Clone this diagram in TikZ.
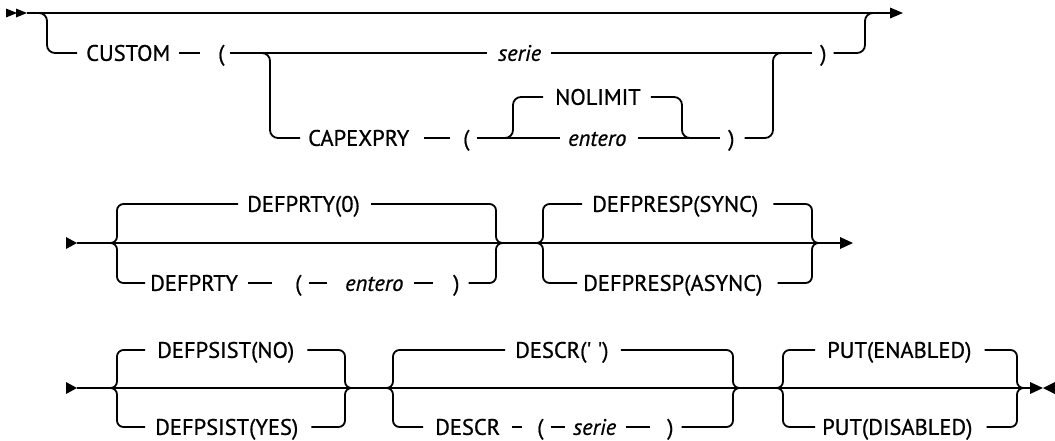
\documentclass[tikz,border=0pt]{standalone}
\usepackage{fontspec}
\setmainfont{PT Sans}
\newfontfamily\tkfont{PT Sans}[FakeBold=0.8]
\begin{document}
\begin{tikzpicture}[x=1pt,y=-1pt,
  ln/.style={line width=1.8pt},
  rr/.style={line width=1.8pt, rounded corners=8pt},
  br/.style={line width=1.8pt, rounded corners=6.5pt},
  tk/.style 2 args={inner sep=0pt, text height=15.7pt, text depth=0pt, anchor=west,
    font=\tkfont\fontsize{22.5}{26}\selectfont,
    execute at begin node={\hspace*{#1pt}}, execute at end node={\hspace*{#2pt}}},
  var/.style={font=\tkfont\fontsize{22.5}{26}\selectfont\itshape},
  tip/.style={fill=black}]
\useasboundingbox (0,0) rectangle (1055,440);

% ---------------- Row 1 ----------------
\coordinate (s1) at (27,13);
\coordinate (e1) at (890,13);
\draw[ln] (s1) -- (e1);
\fill[tip] (6,8.5) -- (17,13) -- (6,17.5) -- cycle;
\fill[tip] (16,8.5) -- (27,13) -- (16,17.5) -- cycle;
\fill[tip] (e1) ++(0,-5.5) -- ++(13,5.5) -- ++(-13,5.5) -- cycle;

\node[tk={9}{9}] (custom) at (77,53) {CUSTOM};
\draw[rr] (30,13) -- (47,13) -- (47,53) -- (custom.west);
\node[tk={18}{5}] (lp1) at (200,53) {(};
\draw[ln] (custom.east) -- (lp1.west);
\node[tk={11}{10},var] (serie1) at (487,53) {serie};
\draw[ln] (lp1.east) -- (serie1.west);
\node[tk={8}{7}] (rp1) at (812,53) {)};
\draw[ln] (serie1.east) -- (rp1.west);
\draw[rr] (rp1.east) -- (865,53) -- (865,13) -- (880,13);

\node[tk={8}{15}] (capexpry) at (300,138) {CAPEXPRY};
\draw[rr] (255,53) -- (270,53) -- (270,138) -- (capexpry.west);
\node[tk={13}{7}] (lp2) at (450,138) {(};
\draw[ln] (capexpry.east) -- (lp2.west);
\node[tk={12}{10}] (nolimit) at (543,97) {NOLIMIT};
\node[tk={8}{11},var] (entero1) at (560,138) {entero};
\draw[ln] (lp2.east) -- (entero1.west);
\draw[rr] (498,138) -- (513,138) -- (513,97) -- (nolimit.west);
\draw[rr] (nolimit.east) -- (682,97) -- (682,138) -- (697,138);
\node[tk={8}{10}] (rp2) at (720,138) {)};
\draw[ln] (entero1.east) -- (rp2.west);
\draw[rr] (rp2.east) -- (773,138) -- (773,53) -- (788,53);

% ---------------- Row 2 ----------------
\coordinate (s2) at (77,243);
\coordinate (e2) at (840,243);
\draw[ln] (s2) -- (e2);
\fill[tip] (s2) ++(-11,-6) -- ++(11,6) -- ++(-11,6) -- cycle;
\fill[tip] (e2) ++(0,-6) -- ++(13,6) -- ++(-13,6) -- cycle;

\node[tk={9}{11}] (defprty0) at (238,204) {DEFPRTY(0)};
\draw[br] (104,243) -- (117,243) -- (117,204) -- (defprty0.west);
\draw[br] (defprty0.east) -- (496,204) -- (496,243) -- (509,243);
\node[tk={5}{10}] (defprty) at (145,283) {DEFPRTY};
\draw[br] (104,243) -- (117,243) -- (117,283) -- (defprty.west);
\node[tk={23}{7}] (lp3) at (272,283) {(};
\draw[ln] (defprty.east) -- (lp3.west);
\node[tk={18}{10},var] (entero2) at (327,283) {entero};
\draw[ln] (lp3.east) -- (entero2.west);
\node[tk={20}{9}] (rp3) at (433,283) {)};
\draw[ln] (entero2.east) -- (rp3.west);
\draw[br] (rp3.east) -- (496,283) -- (496,243) -- (509,243);

\node[tk={10}{15}] (sync) at (582,204) {DEFPRESP(SYNC)};
\draw[br] (530,243) -- (543,243) -- (543,204) -- (sync.west);
\draw[br] (sync.east) -- (812,204) -- (812,243) -- (825,243);
\node[tk={6}{15}] (async) at (577,283) {DEFPRESP(ASYNC)};
\draw[br] (530,243) -- (543,243) -- (543,283) -- (async.west);
\draw[br] (async.east) -- (812,283) -- (812,243) -- (825,243);

% ---------------- Row 3 ----------------
\coordinate (s3) at (77,388);
\coordinate (e3) at (1030,388);
\draw[ln] (s3) -- (e3);
\fill[tip] (s3) ++(-11,-6) -- ++(11,6) -- ++(-11,6) -- cycle;
\fill[tip] (e3) ++(0,-6) -- ++(13,6) -- ++(-13,6) -- cycle;
\fill[tip] (1055,382) -- (1043,388) -- (1055,394) -- cycle;

\node[tk={12}{13}] (psno) at (145,350) {DEFPSIST(NO)};
\draw[br] (104,388) -- (117,388) -- (117,350) -- (psno.west);
\draw[br] (psno.east) -- (345,350) -- (345,388) -- (358,388);
\node[tk={10}{13}] (psyes) at (145,427) {DEFPSIST(YES)};
\draw[br] (104,388) -- (117,388) -- (117,427) -- (psyes.west);
\draw[br] (psyes.east) -- (345,427) -- (345,388) -- (358,388);

\node[tk={10}{12}] (descrq) at (505,350) {DESCR(\textquotesingle\ \textquotesingle)};
\draw[br] (380,388) -- (393,388) -- (393,350) -- (descrq.west);
\draw[br] (descrq.east) -- (733,350) -- (733,388) -- (746,388);
\node[tk={12}{12}] (descr) at (423,427) {DESCR};
\draw[br] (380,388) -- (393,388) -- (393,427) -- (descr.west);
\node[tk={15}{7}] (lp4) at (522,427) {(};
\draw[ln] (descr.east) -- (lp4.west);
\node[tk={8}{10},var] (serie2) at (565,427) {serie};
\draw[ln] (lp4.east) -- (serie2.west);
\node[tk={17}{8}] (rp4) at (650,427) {)};
\draw[ln] (serie2.east) -- (rp4.west);
\draw[br] (rp4.east) -- (733,427) -- (733,388) -- (746,388);

\node[tk={12}{13}] (puten) at (815,350) {PUT(ENABLED)};
\draw[br] (770,388) -- (783,388) -- (783,350) -- (puten.west);
\draw[br] (puten.east) -- (1017,350) -- (1017,388) -- (1030,388);
\node[tk={7}{14}] (putdis) at (815,427) {PUT(DISABLED)};
\draw[br] (770,388) -- (783,388) -- (783,427) -- (putdis.west);
\draw[br] (putdis.east) -- (1017,427) -- (1017,388) -- (1030,388);
\end{tikzpicture}
\end{document}
